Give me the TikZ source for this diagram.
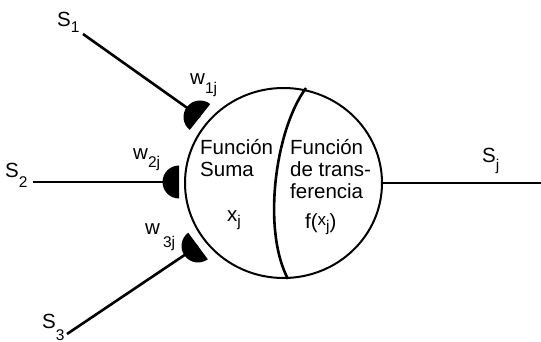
\documentclass[tikz,border=0pt]{standalone}
\usepackage{fontspec}
\setmainfont{Liberation Sans}
\usetikzlibrary{shapes.geometric}
\newcommand\lbl{\fontsize{20.5}{22}\selectfont}
\newcommand\sbs[2]{\raisebox{-#1}{\fontsize{15.5}{15.5}\selectfont #2}}
\newcommand\synapse[2]{\fill (#1) ++(#2-90:16.5) arc[start angle=#2-90, end angle=#2+90, radius=16.5] -- cycle;}
\begin{document}
\begin{tikzpicture}[x=1pt,y=-1pt,
  txt/.style={anchor=base west,inner sep=0pt,font=\lbl},
  wire/.style={line width=2.6pt},
  hwire/.style={line width=2pt}]
\useasboundingbox (0,0) rectangle (541,342);
% neuron body
\node[draw,ellipse,line width=2pt,minimum width=197pt,minimum height=190pt,inner sep=0pt] (neuron) at (283.5,183) {};
\coordinate (arctop) at (306,88);
\coordinate (arcbot) at (288,279);
\draw[line width=2.6pt] (arctop) .. controls (275,130) and (262,230) .. (arcbot);
% synapses
\coordinate (syn1) at (200,117);
\coordinate (syn2) at (179,182);
\coordinate (syn3) at (198,246);
\coordinate (in1) at (83,34);
\coordinate (in2) at (33,182);
\coordinate (in3) at (67,334);
\coordinate (out) at (541,183);
\draw[wire] (in1) -- (syn1);
\draw[hwire] (in2) -- (syn2);
\draw[wire] (in3) -- (syn3);
\synapse{syn1}{218.3}
\synapse{syn2}{180}
\synapse{syn3}{143.6}
\draw[hwire] (neuron.east) -- (out);
% labels
\node[txt] (ls1) at (57,27) {S\sbs{6pt}{1}};
\node[txt] (lw1) at (190,85) {w\sbs{9pt}{1j}};
\node[txt] (ls2) at (5,178) {S\sbs{10pt}{2}};
\node[txt] (lw2) at (133,160) {w\sbs{8pt}{2j}};
\node[txt] (lw3) at (145,234) {w\hspace{3pt}\sbs{13pt}{3j}};
\node[txt] (ls3) at (42,328) {S\sbs{12pt}{3}};
\node[txt] (lsj) at (482,163) {S\sbs{8pt}{j}};
% inner texts
\node[txt] (f1) at (200,155) {Función};
\node[txt] (f2) at (200,177) {Suma};
\node[txt] (xj) at (227,222) {x\sbs{5pt}{j}};
\node[txt] (g1) at (290,155) {Función};
\node[txt] (g2) at (290,177) {de trans-};
\node[txt] (g3) at (290,198) {ferencia};
\node[txt] (fx) at (305,228) {f({\fontsize{17}{17}\selectfont\raisebox{3pt}{x}}\sbs{3pt}{j})};
\end{tikzpicture}
\end{document}
